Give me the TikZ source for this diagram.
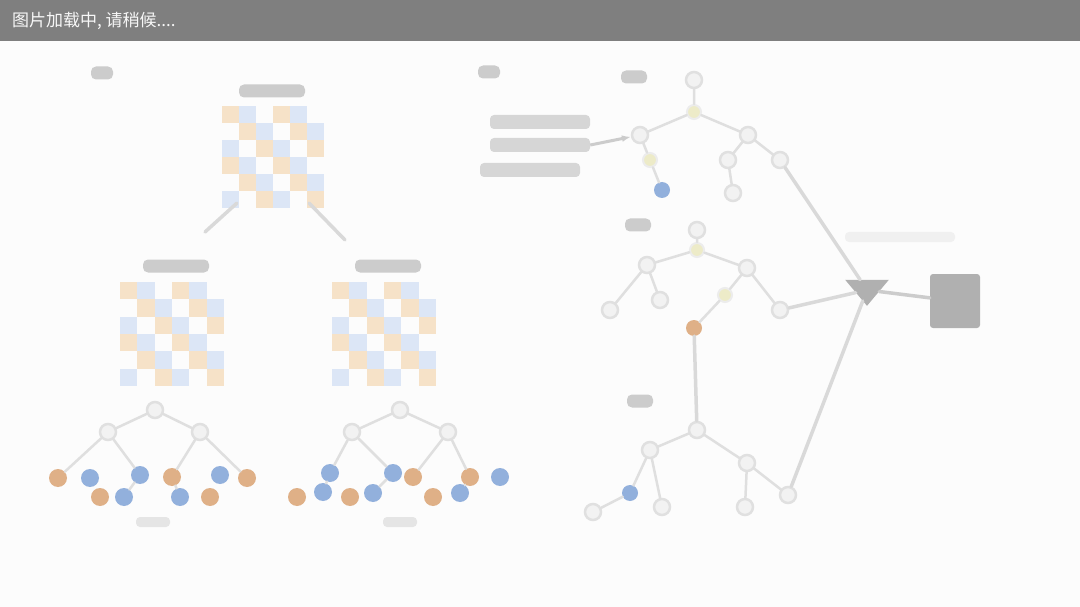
\documentclass[tikz,border=0pt]{standalone}
\usepackage{fontspec}
\newfontfamily\cjk{Noto Sans CJK SC}
\usetikzlibrary{arrows.meta,shapes.geometric}
\definecolor{hdr}{HTML}{7F7F7F}
\definecolor{lor}{HTML}{F6E2C8}
\definecolor{lbl}{HTML}{DCE6F6}
\definecolor{dor}{HTML}{D9A272}
\definecolor{dbl}{HTML}{7FA2D6}
\definecolor{lyl}{HTML}{EDEBC8}
\newcommand\mygrid[3]{% x y size
  \foreach \i in {0,...,5}{\foreach \j in {0,...,5}{%
    \pgfmathtruncatemacro\k{mod(\i+2*\j,3)}%
    \ifnum\k=0 \fill[lor] (#1+\i*#3/6,#2+\j*#3/6) rectangle ++(#3/6,#3/6);\fi
    \ifnum\k=1 \fill[lbl] (#1+\i*#3/6,#2+\j*#3/6) rectangle ++(#3/6,#3/6);\fi
  }}}
\begin{document}
\begin{tikzpicture}[x=1pt,y=-1pt,
  blob/.style={fill=gray!40,rounded corners=5pt,minimum width=#1,minimum height=13pt,inner sep=0pt},
  fblob/.style={fill=gray!20,rounded corners=4pt,minimum width=#1,minimum height=10pt,inner sep=0pt},
  tnode/.style={circle,fill=gray!10,draw=gray!24,line width=2.5pt,minimum size=16pt,inner sep=0pt},
  ynode/.style={circle,fill=lyl,draw=gray!15,line width=2pt,minimum size=14pt,inner sep=0pt},
  onode/.style={circle,fill=dor!85,minimum size=18pt,inner sep=0pt},
  bnode/.style={circle,fill=dbl!85,minimum size=18pt,inner sep=0pt},
  conn/.style={draw=gray!30,line width=3.5pt,line cap=round},
  thin/.style={draw=gray!25,line width=2.5pt,line cap=round}]
\useasboundingbox (0,0) rectangle (1080,607);
\fill[white!98!gray] (0,0) rectangle (1080,607);
% header
\fill[hdr] (0,0) rectangle (1080,41);
\node[anchor=west,text=white!94!gray,inner sep=0pt] (title) at (12,21)
  {\cjk\fontsize{17}{20}\selectfont 图片加载中, 请稍候....};
% ---------------- left panel ----------------
\node[blob=22] (la) at (102,73) {};
\node[blob=66] (mt) at (272,91) {};
\mygrid{222}{106}{102}
\node[inner sep=0pt,minimum width=102pt,minimum height=102pt] (m0) at (273,157) {};
\node[blob=66] (ml) at (176,266) {};
\mygrid{120}{282}{104}
\node[inner sep=0pt,minimum width=104pt,minimum height=104pt] (m1) at (172,334) {};
\node[blob=66] (mr) at (388,266) {};
\mygrid{332}{282}{104}
\node[inner sep=0pt,minimum width=104pt,minimum height=104pt] (m2) at (384,334) {};
\coordinate (s1) at (205,232);
\coordinate (s2) at (345,240);
\draw[conn] (m0.south west) ++(15,-5) coordinate (d1) (d1) -- (s1);
\draw[conn] (m0.south east) ++(-15,-5) coordinate (d2) (d2) -- (s2);
% left tree
\node[tnode] (r1) at (155,410) {};
\node[tnode] (r1a) at (108,432) {};
\node[tnode] (r1b) at (200,432) {};
\node[onode] (a1) at (58,478) {};
\node[bnode] (a2) at (90,478) {};
\node[bnode] (a3) at (140,475) {};
\node[onode] (a4) at (172,477) {};
\node[bnode] (a5) at (220,475) {};
\node[onode] (a6) at (247,478) {};
\node[onode] (a7) at (100,497) {};
\node[bnode] (a8) at (124,497) {};
\node[bnode] (a9) at (180,497) {};
\node[onode] (a10) at (210,497) {};
\node[fblob=34] (lb1) at (153,522) {};
\draw[thin] (r1) -- (r1a) (r1) -- (r1b) (r1a) -- (a1) (r1a) -- (a3) (r1b) -- (a4) (r1b) -- (a6)
  (a3) -- (a8) (a4) -- (a9);
% right tree
\node[tnode] (r2) at (400,410) {};
\node[tnode] (r2a) at (352,432) {};
\node[tnode] (r2b) at (448,432) {};
\node[bnode] (b1) at (330,473) {};
\node[bnode] (b2) at (393,473) {};
\node[onode] (b3) at (413,477) {};
\node[onode] (b4) at (470,477) {};
\node[bnode] (b5) at (500,477) {};
\node[onode] (b6) at (297,497) {};
\node[bnode] (b7) at (323,492) {};
\node[onode] (b8) at (350,497) {};
\node[bnode] (b9) at (373,493) {};
\node[onode] (b10) at (433,497) {};
\node[bnode] (b11) at (460,493) {};
\node[fblob=34] (lb2) at (400,522) {};
\draw[thin] (r2) -- (r2a) (r2) -- (r2b) (r2a) -- (b1) (r2a) -- (b2) (r2b) -- (b3) (r2b) -- (b4)
  (b1) -- (b7) (b2) -- (b9) (b4) -- (b11);
% ---------------- right panel ----------------
\node[blob=22] (rb) at (489,72) {};
% tree 1
\node[blob=26] (t1l) at (634,77) {};
\node[tnode] (t1r) at (694,80) {};
\node[ynode] (t1y) at (694,112) {};
\node[tnode] (t1a) at (640,135) {};
\node[tnode] (t1b) at (748,135) {};
\node[ynode] (t1c) at (650,160) {};
\node[bnode,minimum size=16pt] (t1d) at (662,190) {};
\node[tnode] (t1e) at (728,160) {};
\node[tnode] (t1f) at (733,193) {};
\node[tnode] (t1g) at (780,160) {};
\draw[thin] (t1r) -- (t1y) (t1y) -- (t1a) (t1y) -- (t1b) (t1a) -- (t1c) (t1c) -- (t1d)
  (t1b) -- (t1e) (t1e) -- (t1f) (t1b) -- (t1g);
% text block with arrow
\node[fill=gray!32,minimum width=100pt,minimum height=14pt,inner sep=0pt,rounded corners=4pt] (tx1) at (540,122) {};
\node[fill=gray!32,minimum width=100pt,minimum height=14pt,inner sep=0pt,rounded corners=4pt] (tx2) at (540,145) {};
\node[fill=gray!32,minimum width=100pt,minimum height=14pt,inner sep=0pt,rounded corners=4pt] (tx3) at (530,170) {};
\draw[-{Latex[length=9pt]},draw=gray!40,line width=3pt] (tx2.east) -- (t1a);
% tree 2
\node[blob=26] (t2l) at (638,225) {};
\node[tnode] (t2r) at (697,230) {};
\node[ynode] (t2y) at (697,250) {};
\node[tnode] (t2a) at (647,265) {};
\node[tnode] (t2b) at (747,268) {};
\node[tnode] (t2c) at (610,310) {};
\node[tnode] (t2d) at (660,300) {};
\node[ynode] (t2e) at (725,295) {};
\node[tnode] (t2f) at (780,310) {};
\node[onode,minimum size=16pt] (t2o) at (694,328) {};
\draw[thin] (t2r) -- (t2y) (t2y) -- (t2a) (t2y) -- (t2b) (t2a) -- (t2c) (t2a) -- (t2d)
  (t2b) -- (t2e) (t2b) -- (t2f) (t2e) -- (t2o);
% tree 3
\node[blob=26] (t3l) at (640,401) {};
\node[tnode] (t3r) at (697,430) {};
\node[tnode] (t3a) at (650,450) {};
\node[tnode] (t3b) at (747,463) {};
\node[bnode,minimum size=16pt] (t3c) at (630,493) {};
\node[tnode] (t3d) at (593,512) {};
\node[tnode] (t3e) at (662,507) {};
\node[tnode] (t3f) at (745,507) {};
\node[tnode] (t3g) at (788,495) {};
\draw[thin] (t3r) -- (t3a) (t3r) -- (t3b) (t3a) -- (t3c) (t3c) -- (t3d) (t3a) -- (t3e)
  (t3b) -- (t3f) (t3b) -- (t3g);
\draw[conn] (t2o) -- (t3r);
% merge and output
\node[isosceles triangle,shape border rotate=-90,isosceles triangle apex angle=80,fill=gray!62,minimum width=38pt,minimum height=26pt,inner sep=0pt] (mg) at (867,290) {};
\node[fill=gray!62,minimum width=50pt,minimum height=54pt,inner sep=0pt,rounded corners=3pt] (out) at (955,301) {};
\draw[conn] (t1g) -- (mg);
\draw[conn] (t2f) -- (mg);
\draw[conn] (t3g) -- (mg);
\draw[conn,draw=gray!40] (mg) -- (out);
% faint caption
\node[fblob=110,fill=gray!12] (cp1) at (900,237) {};
\end{tikzpicture}
\end{document}
